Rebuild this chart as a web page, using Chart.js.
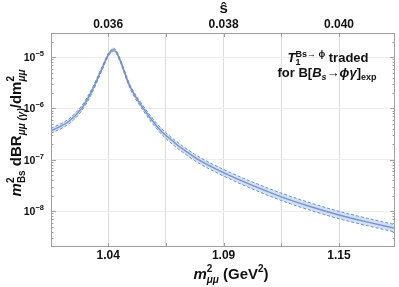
<!DOCTYPE html>
<html>
<head>
<meta charset="utf-8">
<script src="https://cdn.jsdelivr.net/npm/chart.js@4.4.1/dist/chart.umd.min.js"></script>
<style>
  html, body { margin: 0; padding: 0; background: #fff; }
  canvas { display: block; }
</style>
</head>
<body>
<canvas id="chart" width="399" height="287"></canvas>
<script>
// s-hat values (top axis) and the dBR band
const sHat = [0.03501, 0.03531, 0.03554, 0.03571, 0.03588, 0.03600, 0.03604, 0.03609, 0.03614, 0.03618, 0.03622, 0.03627,
              0.03638, 0.03661, 0.03684, 0.0370, 0.0375, 0.0380, 0.0385, 0.0390, 0.0395, 0.0400, 0.0405, 0.04097];
const central = [3.66e-7, 5.5e-7, 1.0e-6, 2.1e-6, 5.5e-6, 1.09e-5, 1.26e-5, 1.40e-5, 1.26e-5, 1.03e-5, 8.0e-6, 5.6e-6,
                 2.64e-6, 1.0e-6, 4.55e-7, 2.96e-7, 1.11e-7, 5.6e-8, 3.16e-8, 1.9e-8, 1.23e-8, 8.4e-9, 6.1e-9, 4.62e-9];
const upper = [4.1e-7, 6.16e-7, 1.12e-6, 2.33e-6, 6.0e-6, 1.17e-5, 1.35e-5, 1.5e-5, 1.35e-5, 1.1e-5, 8.56e-6, 6.0e-6,
               2.88e-6, 1.11e-6, 5.14e-7, 3.37e-7, 1.28e-7, 6.5e-8, 3.7e-8, 2.24e-8, 1.45e-8, 9.9e-9, 7.2e-9, 5.45e-9];
const lower = [3.27e-7, 4.91e-7, 8.93e-7, 1.89e-6, 5.05e-6, 1.02e-5, 1.18e-5, 1.31e-5, 1.18e-5, 9.6e-6, 7.48e-6, 5.23e-6,
               2.42e-6, 9.0e-7, 4.03e-7, 2.6e-7, 9.65e-8, 4.83e-8, 2.7e-8, 1.61e-8, 1.04e-8, 7.1e-9, 5.17e-9, 3.92e-9];

// ticks
const xTicks = [0.036, 0.038, 0.040];
const topLabels = ['0.036', '0.038', '0.040'];
const bottomLabels = ['1.04', '1.09', '1.15'];
const xGrid = [0.036, 0.037, 0.038, 0.039, 0.040];
const yTicks = [1e-8, 1e-7, 1e-6, 1e-5];
const yExponents = ['\u22128', '\u22127', '\u22126', '\u22125'];

const FAM = '"Liberation Sans", Arial, sans-serif';
const f = (size, style) => (style || 'bold') + ' ' + size + 'px ' + FAM;

// draw a line of text made of pieces: [text, font, dy, noAdvance]
function rich(ctx, segs, x, y, align) {
    let w = 0;
    segs.forEach(s => { ctx.font = s[1]; if (!s[3]) w += ctx.measureText(s[0]).width; });
    let cx = align === 'center' ? x - w / 2 : align === 'right' ? x - w : x;
    ctx.textAlign = 'left';
    ctx.textBaseline = 'alphabetic';
    segs.forEach(s => {
        ctx.font = s[1];
        ctx.fillText(s[0], cx, y + (s[2] || 0));
        if (!s[3]) cx += ctx.measureText(s[0]).width;
    });
}

const decorations = {
    id: 'decorations',
    afterDraw(chart) {
        const ctx = chart.ctx;
        const a = chart.chartArea;
        const xs = chart.scales.x, ys = chart.scales.y;
        ctx.save();
        ctx.fillStyle = '#111';

        // frame
        ctx.strokeStyle = '#a0a0a0';
        ctx.lineWidth = 1;
        ctx.strokeRect(a.left + 0.5, a.top + 0.5, a.right - a.left - 1, a.bottom - a.top - 1);

        // y minor / major ticks on left and right
        ctx.beginPath();
        for (let e = -9; e <= -5; e++) {
            for (let m = 1; m <= 9; m++) {
                const v = m * Math.pow(10, e);
                const py = Math.round(ys.getPixelForValue(v)) + 0.5;
                if (py < a.top || py > a.bottom) continue;
                const len = m === 1 ? 5 : 2.5;
                ctx.moveTo(a.left, py); ctx.lineTo(a.left + len, py);
                ctx.moveTo(a.right, py); ctx.lineTo(a.right - len, py);
            }
        }
        xGrid.forEach(v => {
            const px = Math.round(xs.getPixelForValue(v)) + 0.5;
            ctx.moveTo(px, a.bottom); ctx.lineTo(px, a.bottom - 4);
            ctx.moveTo(px, a.top); ctx.lineTo(px, a.top + 4);
        });
        ctx.stroke();

        // y tick labels 10^n
        yTicks.forEach((v, i) => {
            const py = ys.getPixelForValue(v);
            rich(ctx, [['10', f(10.5), 0], [yExponents[i], f(7.5), -5]], 44, py + 4, 'right');
        });

        // x tick labels (bottom m^2, top s-hat)
        ctx.textAlign = 'center';
        ctx.textBaseline = 'middle';
        ctx.font = f(12);
        xTicks.forEach((v, i) => {
            const px = xs.getPixelForValue(v);
            ctx.fillText(bottomLabels[i], px, a.bottom + 9);
            ctx.fillText(topLabels[i], px, a.top - 8);
        });

        // top axis title
        ctx.font = f(15);
        ctx.fillText('\u015D', xs.getPixelForValue(0.038), 9);

        // bottom axis title
        rich(ctx, [['m', f(15, 'italic bold'), 0], ['2', f(10), -7, true], ['\u03BC\u03BC', f(10, 'italic bold'), 4],
                   [' (GeV', f(15), 0], ['2', f(10), -7], [')', f(15), 0]], 231, 279, 'center');

        // y axis title (rotated)
        ctx.save();
        ctx.translate(21, 133);
        ctx.rotate(-Math.PI / 2);
        rich(ctx, [['m', f(15, 'italic bold'), 0], ['2', f(10), -7, true], ['Bs', f(10), 4],
                   [' dBR', f(15), 0], ['\u03BC\u03BC (\u03B3)', f(10, 'italic bold'), 4],
                   ['/dm', f(15), 0], ['2', f(10), -7, true], ['\u03BC\u03BC', f(10, 'italic bold'), 4]], 0, 0, 'center');
        ctx.restore();

        // annotation
        rich(ctx, [['T', f(13, 'italic bold'), 0], ['1', f(9), 3, true], ['Bs\u2192 \u03D5', f(9), -5],
                   [' traded', f(13), 0]], 328, 62, 'center');
        rich(ctx, [['for B[', f(13), 0], ['B', f(13, 'italic bold'), 0], ['s', f(9, 'italic bold'), 3],
                   ['\u2192', f(13), 0], ['\u03D5\u03B3', f(13, 'italic bold'), 0], [']', f(13), 0],
                   ['exp', f(9), 3]], 327, 77, 'center');
        ctx.restore();
    }
};

const pts = arr => sHat.map((s, i) => ({ x: s, y: arr[i] }));

new Chart(document.getElementById('chart'), {
    type: 'line',
    data: {
        datasets: [
            {
                label: 'lower',
                data: pts(lower),
                borderColor: '#6a8fd2',
                borderWidth: 1,
                borderDash: [3, 2],
                pointRadius: 0,
                fill: false,
                cubicInterpolationMode: 'monotone'
            },
            {
                label: 'upper',
                data: pts(upper),
                borderColor: '#6a8fd2',
                borderWidth: 1,
                borderDash: [3, 2],
                backgroundColor: 'rgba(170, 195, 235, 0.5)',
                pointRadius: 0,
                fill: 0,
                cubicInterpolationMode: 'monotone'
            },
            {
                label: 'central',
                data: pts(central),
                borderColor: '#4566ab',
                borderWidth: 1.4,
                pointRadius: 0,
                fill: false,
                cubicInterpolationMode: 'monotone'
            }
        ]
    },
    options: {
        responsive: false,
        animation: false,
        layout: { padding: { left: 51, right: 4, top: 33, bottom: 40 } },
        plugins: {
            legend: { display: false },
            tooltip: { enabled: false }
        },
        scales: {
            x: {
                type: 'linear',
                min: 0.03501,
                max: 0.04097,
                afterBuildTicks: s => { s.ticks = xGrid.map(v => ({ value: v })); },
                afterFit: s => { s.height = 0; },
                ticks: { display: false },
                border: { display: false },
                grid: { color: '#dcdcdc', drawTicks: false }
            },
            y: {
                type: 'logarithmic',
                min: 2.0e-9,
                max: 2.95e-5,
                afterBuildTicks: s => { s.ticks = yTicks.map(v => ({ value: v })); },
                afterFit: s => { s.width = 0; },
                ticks: { display: false },
                border: { display: false },
                grid: { color: '#ececec', drawTicks: false }
            }
        }
    },
    plugins: [decorations]
});
</script>
</body>
</html>
